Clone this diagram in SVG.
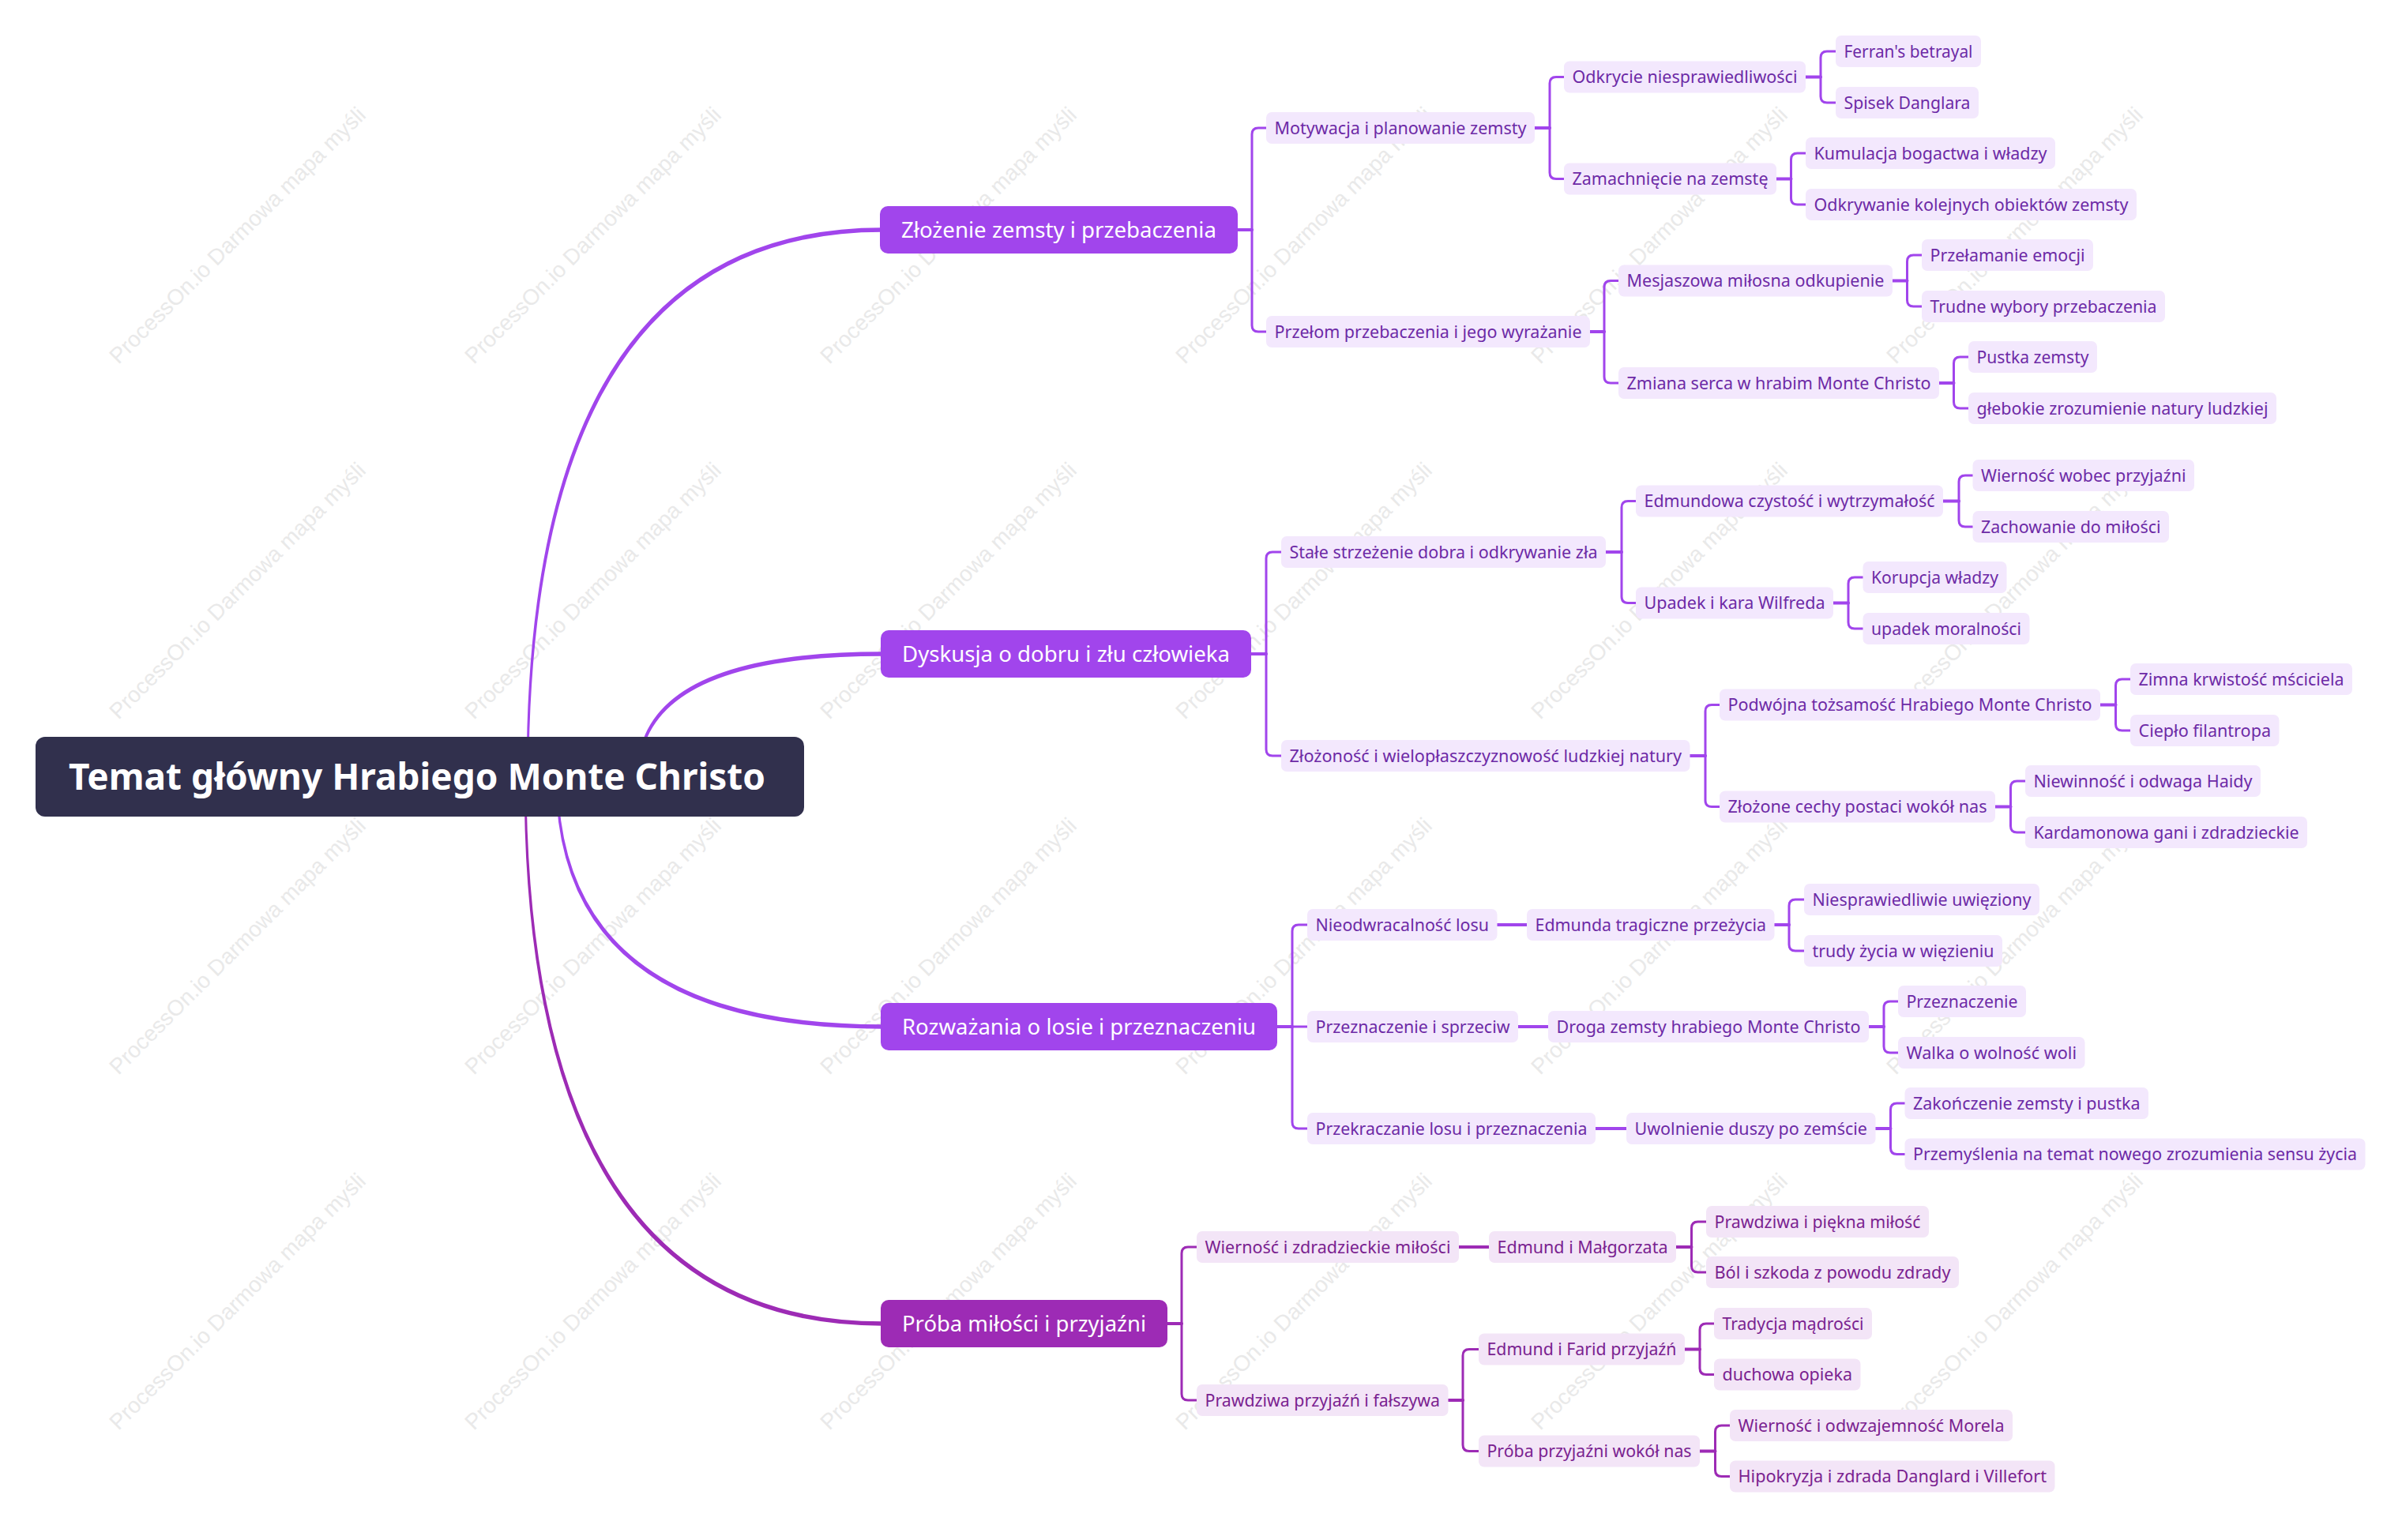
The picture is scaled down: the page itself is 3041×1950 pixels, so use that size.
<svg xmlns="http://www.w3.org/2000/svg" width="3041" height="1950" viewBox="0 0 3041 1950">
<style>
.wm{font-family:"Liberation Sans",Arial,sans-serif;font-size:28px;fill:#e9e9e9}
.root rect{fill:#31304d}
.root text{font-family:"Noto Sans","Open Sans",sans-serif;font-size:46px;font-weight:bold;fill:#ffffff;text-anchor:middle}
.l1 rect{fill:#a145ec}
.l1.b4 rect{fill:#9d2bb5}
.l1 text{font-family:"Noto Sans","Open Sans",sans-serif;font-size:28px;fill:#ffffff;text-anchor:middle}
.n rect{fill:#f3e8fd}
.n text{font-family:"Noto Sans","Open Sans",sans-serif;font-size:22px;fill:#6d2aa6;text-anchor:middle}
.n.b4 rect{fill:#f3e5f7}
.n.b4 text{fill:#7a2290}
.main{fill:#a145ec;stroke:none}
.main.b4{fill:#9d2bb5}
.c{fill:none;stroke:#a145ec;stroke-width:3;stroke-linecap:round;stroke-linejoin:round}
.c.s{stroke-width:4}
.c.b4{stroke:#9d2bb5}
</style>
<rect x="0" y="0" width="3041" height="1950" fill="#ffffff"/>
<g id="watermark">
<text class="wm" x="150" y="462" transform="rotate(-45 150 462)">ProcessOn.io Darmowa mapa myśli</text>
<text class="wm" x="600" y="462" transform="rotate(-45 600 462)">ProcessOn.io Darmowa mapa myśli</text>
<text class="wm" x="1050" y="462" transform="rotate(-45 1050 462)">ProcessOn.io Darmowa mapa myśli</text>
<text class="wm" x="1500" y="462" transform="rotate(-45 1500 462)">ProcessOn.io Darmowa mapa myśli</text>
<text class="wm" x="1950" y="462" transform="rotate(-45 1950 462)">ProcessOn.io Darmowa mapa myśli</text>
<text class="wm" x="2400" y="462" transform="rotate(-45 2400 462)">ProcessOn.io Darmowa mapa myśli</text>
<text class="wm" x="150" y="912" transform="rotate(-45 150 912)">ProcessOn.io Darmowa mapa myśli</text>
<text class="wm" x="600" y="912" transform="rotate(-45 600 912)">ProcessOn.io Darmowa mapa myśli</text>
<text class="wm" x="1050" y="912" transform="rotate(-45 1050 912)">ProcessOn.io Darmowa mapa myśli</text>
<text class="wm" x="1500" y="912" transform="rotate(-45 1500 912)">ProcessOn.io Darmowa mapa myśli</text>
<text class="wm" x="1950" y="912" transform="rotate(-45 1950 912)">ProcessOn.io Darmowa mapa myśli</text>
<text class="wm" x="2400" y="912" transform="rotate(-45 2400 912)">ProcessOn.io Darmowa mapa myśli</text>
<text class="wm" x="150" y="1362" transform="rotate(-45 150 1362)">ProcessOn.io Darmowa mapa myśli</text>
<text class="wm" x="600" y="1362" transform="rotate(-45 600 1362)">ProcessOn.io Darmowa mapa myśli</text>
<text class="wm" x="1050" y="1362" transform="rotate(-45 1050 1362)">ProcessOn.io Darmowa mapa myśli</text>
<text class="wm" x="1500" y="1362" transform="rotate(-45 1500 1362)">ProcessOn.io Darmowa mapa myśli</text>
<text class="wm" x="1950" y="1362" transform="rotate(-45 1950 1362)">ProcessOn.io Darmowa mapa myśli</text>
<text class="wm" x="2400" y="1362" transform="rotate(-45 2400 1362)">ProcessOn.io Darmowa mapa myśli</text>
<text class="wm" x="150" y="1812" transform="rotate(-45 150 1812)">ProcessOn.io Darmowa mapa myśli</text>
<text class="wm" x="600" y="1812" transform="rotate(-45 600 1812)">ProcessOn.io Darmowa mapa myśli</text>
<text class="wm" x="1050" y="1812" transform="rotate(-45 1050 1812)">ProcessOn.io Darmowa mapa myśli</text>
<text class="wm" x="1500" y="1812" transform="rotate(-45 1500 1812)">ProcessOn.io Darmowa mapa myśli</text>
<text class="wm" x="1950" y="1812" transform="rotate(-45 1950 1812)">ProcessOn.io Darmowa mapa myśli</text>
<text class="wm" x="2400" y="1812" transform="rotate(-45 2400 1812)">ProcessOn.io Darmowa mapa myśli</text>
</g>
<g id="connectors">
<path class="main" d="M666.6,983 Q665.3,288.3 1117,288.3 L1117,293.7 Q670.7,293.7 669.4,983 Z"/>
<path class="main" d="M806.6,983 Q805.3,825.3 1117,825.3 L1117,830.7 Q810.7,830.7 809.4,983 Z"/>
<path class="main" d="M703.6,983 Q702.3,1302.7 1117,1302.7 L1117,1297.3 Q707.7,1297.3 706.4,983 Z"/>
<path class="main b4" d="M663.6,983 Q662.3,1678.7 1117,1678.7 L1117,1673.3 Q667.7,1673.3 666.4,983 Z"/>
<path class="c s" d="M1567,291 H1585"/>
<path class="c" d="M1585,291 V170 Q1585,162 1593,162 H1603"/>
<path class="c" d="M1585,291 V412 Q1585,420 1593,420 H1603"/>
<path class="c s" d="M1943,162 H1962"/>
<path class="c" d="M1962,162 V105.5 Q1962,97.5 1970,97.5 H1980"/>
<path class="c" d="M1962,162 V218.5 Q1962,226.5 1970,226.5 H1980"/>
<path class="c s" d="M2286,97.5 H2305"/>
<path class="c" d="M2305,97.5 V73 Q2305,65 2313,65 H2324"/>
<path class="c" d="M2305,97.5 V122 Q2305,130 2313,130 H2324"/>
<path class="c s" d="M2249,226.5 H2267.5"/>
<path class="c" d="M2267.5,226.5 V202 Q2267.5,194 2275.5,194 H2286"/>
<path class="c" d="M2267.5,226.5 V251 Q2267.5,259 2275.5,259 H2286"/>
<path class="c s" d="M2013,420 H2031"/>
<path class="c" d="M2031,420 V363.5 Q2031,355.5 2039,355.5 H2049"/>
<path class="c" d="M2031,420 V477 Q2031,485 2039,485 H2049"/>
<path class="c s" d="M2396,355.5 H2414.5"/>
<path class="c" d="M2414.5,355.5 V331 Q2414.5,323 2422.5,323 H2433"/>
<path class="c" d="M2414.5,355.5 V380 Q2414.5,388 2422.5,388 H2433"/>
<path class="c s" d="M2455,485 H2473.5"/>
<path class="c" d="M2473.5,485 V460 Q2473.5,452 2481.5,452 H2492"/>
<path class="c" d="M2473.5,485 V509 Q2473.5,517 2481.5,517 H2492"/>
<path class="c s" d="M1584,828 H1603"/>
<path class="c" d="M1603,828 V707 Q1603,699 1611,699 H1622"/>
<path class="c" d="M1603,828 V949 Q1603,957 1611,957 H1622"/>
<path class="c s" d="M2033,699 H2053"/>
<path class="c" d="M2053,699 V642.5 Q2053,634.5 2061,634.5 H2071"/>
<path class="c" d="M2053,699 V755.5 Q2053,763.5 2061,763.5 H2071"/>
<path class="c s" d="M2460,634.5 H2480"/>
<path class="c" d="M2480,634.5 V610 Q2480,602 2488,602 H2497.5"/>
<path class="c" d="M2480,634.5 V659 Q2480,667 2488,667 H2497.5"/>
<path class="c s" d="M2321,763.5 H2340"/>
<path class="c" d="M2340,763.5 V739 Q2340,731 2348,731 H2358.5"/>
<path class="c" d="M2340,763.5 V788 Q2340,796 2348,796 H2358.5"/>
<path class="c s" d="M2139.5,957 H2159"/>
<path class="c" d="M2159,957 V900.5 Q2159,892.5 2167,892.5 H2177"/>
<path class="c" d="M2159,957 V1013.5 Q2159,1021.5 2167,1021.5 H2177"/>
<path class="c s" d="M2659,892.5 H2678.5"/>
<path class="c" d="M2678.5,892.5 V868 Q2678.5,860 2686.5,860 H2697"/>
<path class="c" d="M2678.5,892.5 V917 Q2678.5,925 2686.5,925 H2697"/>
<path class="c s" d="M2526,1021.5 H2545.5"/>
<path class="c" d="M2545.5,1021.5 V997 Q2545.5,989 2553.5,989 H2564"/>
<path class="c" d="M2545.5,1021.5 V1046 Q2545.5,1054 2553.5,1054 H2564"/>
<path class="c s" d="M1617,1300 H1636"/>
<path class="c" d="M1636,1300 V1179 Q1636,1171 1644,1171 H1655"/>
<path class="c" d="M1636,1300 H1655"/>
<path class="c" d="M1636,1300 V1421 Q1636,1429 1644,1429 H1655"/>
<path class="c s" d="M1895.5,1171 H1933"/>
<path class="c s" d="M2246.5,1171 H2265"/>
<path class="c" d="M2265,1171 V1147 Q2265,1139 2273,1139 H2284"/>
<path class="c" d="M2265,1171 V1196 Q2265,1204 2273,1204 H2284"/>
<path class="c s" d="M1922,1300 H1960"/>
<path class="c s" d="M2366,1300 H2385"/>
<path class="c" d="M2385,1300 V1276 Q2385,1268 2393,1268 H2403"/>
<path class="c" d="M2385,1300 V1325 Q2385,1333 2393,1333 H2403"/>
<path class="c s" d="M2020,1429 H2059"/>
<path class="c s" d="M2374.5,1429 H2393.5"/>
<path class="c" d="M2393.5,1429 V1405 Q2393.5,1397 2401.5,1397 H2411.5"/>
<path class="c" d="M2393.5,1429 V1453.5 Q2393.5,1461.5 2401.5,1461.5 H2411.5"/>
<path class="c s b4" d="M1478,1676 H1496"/>
<path class="c b4" d="M1496,1676 V1587 Q1496,1579 1504,1579 H1515"/>
<path class="c b4" d="M1496,1676 V1765 Q1496,1773 1504,1773 H1515"/>
<path class="c s b4" d="M1847,1579 H1885"/>
<path class="c s b4" d="M2122,1579 H2141.5"/>
<path class="c b4" d="M2141.5,1579 V1555 Q2141.5,1547 2149.5,1547 H2160"/>
<path class="c b4" d="M2141.5,1579 V1603 Q2141.5,1611 2149.5,1611 H2160"/>
<path class="c s b4" d="M1833.5,1773 H1852"/>
<path class="c b4" d="M1852,1773 V1716.5 Q1852,1708.5 1860,1708.5 H1872"/>
<path class="c b4" d="M1852,1773 V1829.5 Q1852,1837.5 1860,1837.5 H1872"/>
<path class="c s b4" d="M2133,1708.5 H2152"/>
<path class="c b4" d="M2152,1708.5 V1684 Q2152,1676 2160,1676 H2170"/>
<path class="c b4" d="M2152,1708.5 V1732.5 Q2152,1740.5 2160,1740.5 H2170"/>
<path class="c s b4" d="M2152,1837.5 H2171.5"/>
<path class="c b4" d="M2171.5,1837.5 V1813 Q2171.5,1805 2179.5,1805 H2190"/>
<path class="c b4" d="M2171.5,1837.5 V1861.5 Q2171.5,1869.5 2179.5,1869.5 H2190"/>
</g>
<g id="root" class="root"><rect x="45" y="933" width="973" height="101" rx="12"/><text x="528" y="1000" textLength="882" lengthAdjust="spacingAndGlyphs">Temat główny Hrabiego Monte Christo</text></g>
<g id="b1" class="l1"><rect x="1114" y="261" width="453" height="60" rx="10"/><text x="1340.5" y="301" textLength="399" lengthAdjust="spacingAndGlyphs">Złożenie zemsty i przebaczenia</text></g>
<g id="b2" class="l1"><rect x="1115" y="798" width="469" height="60" rx="10"/><text x="1349.5" y="838" textLength="415" lengthAdjust="spacingAndGlyphs">Dyskusja o dobru i złu człowieka</text></g>
<g id="b3" class="l1"><rect x="1115" y="1270" width="502" height="60" rx="10"/><text x="1366" y="1310" textLength="448" lengthAdjust="spacingAndGlyphs">Rozważania o losie i przeznaczeniu</text></g>
<g id="b4" class="l1 b4"><rect x="1115" y="1646" width="363" height="60" rx="10"/><text x="1296.5" y="1686" textLength="309" lengthAdjust="spacingAndGlyphs">Próba miłości i przyjaźni</text></g>
<g id="n1_1" class="n"><rect x="1603" y="142" width="340" height="40" rx="7"/><text x="1773" y="169.8" textLength="319" lengthAdjust="spacingAndGlyphs">Motywacja i planowanie zemsty</text></g>
<g id="n1_2" class="n"><rect x="1603" y="400" width="410" height="40" rx="7"/><text x="1808" y="427.8" textLength="389" lengthAdjust="spacingAndGlyphs">Przełom przebaczenia i jego wyrażanie</text></g>
<g id="n1_1_1" class="n"><rect x="1980" y="77.5" width="306" height="40" rx="7"/><text x="2133" y="105.3" textLength="285" lengthAdjust="spacingAndGlyphs">Odkrycie niesprawiedliwości</text></g>
<g id="n1_1_2" class="n"><rect x="1980" y="206.5" width="269" height="40" rx="7"/><text x="2114.5" y="234.3" textLength="248" lengthAdjust="spacingAndGlyphs">Zamachnięcie na zemstę</text></g>
<g id="n1_1_1_1" class="n"><rect x="2324" y="45" width="184" height="40" rx="7"/><text x="2416" y="72.8" textLength="163" lengthAdjust="spacingAndGlyphs">Ferran's betrayal</text></g>
<g id="n1_1_1_2" class="n"><rect x="2324" y="110" width="181" height="40" rx="7"/><text x="2414.5" y="137.8" textLength="160" lengthAdjust="spacingAndGlyphs">Spisek Danglara</text></g>
<g id="n1_1_2_1" class="n"><rect x="2286" y="174" width="316" height="40" rx="7"/><text x="2444" y="201.8" textLength="295" lengthAdjust="spacingAndGlyphs">Kumulacja bogactwa i władzy</text></g>
<g id="n1_1_2_2" class="n"><rect x="2286" y="239" width="419" height="40" rx="7"/><text x="2495.5" y="266.8" textLength="398" lengthAdjust="spacingAndGlyphs">Odkrywanie kolejnych obiektów zemsty</text></g>
<g id="n1_2_1" class="n"><rect x="2049" y="335.5" width="347" height="40" rx="7"/><text x="2222.5" y="363.3" textLength="326" lengthAdjust="spacingAndGlyphs">Mesjaszowa miłosna odkupienie</text></g>
<g id="n1_2_2" class="n"><rect x="2049" y="465" width="406" height="40" rx="7"/><text x="2252" y="492.8" textLength="385" lengthAdjust="spacingAndGlyphs">Zmiana serca w hrabim Monte Christo</text></g>
<g id="n1_2_1_1" class="n"><rect x="2433" y="303" width="217" height="40" rx="7"/><text x="2541.5" y="330.8" textLength="196" lengthAdjust="spacingAndGlyphs">Przełamanie emocji</text></g>
<g id="n1_2_1_2" class="n"><rect x="2433" y="368" width="308" height="40" rx="7"/><text x="2587" y="395.8" textLength="287" lengthAdjust="spacingAndGlyphs">Trudne wybory przebaczenia</text></g>
<g id="n1_2_2_1" class="n"><rect x="2492" y="432" width="163" height="40" rx="7"/><text x="2573.5" y="459.8" textLength="142" lengthAdjust="spacingAndGlyphs">Pustka zemsty</text></g>
<g id="n1_2_2_2" class="n"><rect x="2492" y="497" width="390" height="40" rx="7"/><text x="2687" y="524.8" textLength="369" lengthAdjust="spacingAndGlyphs">głebokie zrozumienie natury ludzkiej</text></g>
<g id="n2_1" class="n"><rect x="1622" y="679" width="411" height="40" rx="7"/><text x="1827.5" y="706.8" textLength="390" lengthAdjust="spacingAndGlyphs">Stałe strzeżenie dobra i odkrywanie zła</text></g>
<g id="n2_2" class="n"><rect x="1622" y="937" width="517.5" height="40" rx="7"/><text x="1880.75" y="964.8" textLength="496.5" lengthAdjust="spacingAndGlyphs">Złożoność i wielopłaszczyznowość ludzkiej natury</text></g>
<g id="n2_1_1" class="n"><rect x="2071" y="614.5" width="389" height="40" rx="7"/><text x="2265.5" y="642.3" textLength="368" lengthAdjust="spacingAndGlyphs">Edmundowa czystość i wytrzymałość</text></g>
<g id="n2_1_2" class="n"><rect x="2071" y="743.5" width="250" height="40" rx="7"/><text x="2196" y="771.3" textLength="229" lengthAdjust="spacingAndGlyphs">Upadek i kara Wilfreda</text></g>
<g id="n2_1_1_1" class="n"><rect x="2497.5" y="582" width="280.5" height="40" rx="7"/><text x="2637.75" y="609.8" textLength="259.5" lengthAdjust="spacingAndGlyphs">Wierność wobec przyjaźni</text></g>
<g id="n2_1_1_2" class="n"><rect x="2497.5" y="647" width="248.5" height="40" rx="7"/><text x="2621.75" y="674.8" textLength="227.5" lengthAdjust="spacingAndGlyphs">Zachowanie do miłości</text></g>
<g id="n2_1_2_1" class="n"><rect x="2358.5" y="711" width="182" height="40" rx="7"/><text x="2449.5" y="738.8" textLength="161" lengthAdjust="spacingAndGlyphs">Korupcja władzy</text></g>
<g id="n2_1_2_2" class="n"><rect x="2358.5" y="776" width="211" height="40" rx="7"/><text x="2464" y="803.8" textLength="190" lengthAdjust="spacingAndGlyphs">upadek moralności</text></g>
<g id="n2_2_1" class="n"><rect x="2177" y="872.5" width="482" height="40" rx="7"/><text x="2418" y="900.3" textLength="461" lengthAdjust="spacingAndGlyphs">Podwójna tożsamość Hrabiego Monte Christo</text></g>
<g id="n2_2_2" class="n"><rect x="2177" y="1001.5" width="349" height="40" rx="7"/><text x="2351.5" y="1029.3" textLength="328" lengthAdjust="spacingAndGlyphs">Złożone cechy postaci wokół nas</text></g>
<g id="n2_2_1_1" class="n"><rect x="2697" y="840" width="281" height="40" rx="7"/><text x="2837.5" y="867.8" textLength="260" lengthAdjust="spacingAndGlyphs">Zimna krwistość mściciela</text></g>
<g id="n2_2_1_2" class="n"><rect x="2697" y="905" width="188.5" height="40" rx="7"/><text x="2791.25" y="932.8" textLength="167.5" lengthAdjust="spacingAndGlyphs">Ciepło filantropa</text></g>
<g id="n2_2_2_1" class="n"><rect x="2564" y="969" width="298" height="40" rx="7"/><text x="2713" y="996.8" textLength="277" lengthAdjust="spacingAndGlyphs">Niewinność i odwaga Haidy</text></g>
<g id="n2_2_2_2" class="n"><rect x="2564" y="1034" width="357" height="40" rx="7"/><text x="2742.5" y="1061.8" textLength="336" lengthAdjust="spacingAndGlyphs">Kardamonowa gani i zdradzieckie</text></g>
<g id="n3_1" class="n"><rect x="1655" y="1151" width="240.5" height="40" rx="7"/><text x="1775.25" y="1178.8" textLength="219.5" lengthAdjust="spacingAndGlyphs">Nieodwracalność losu</text></g>
<g id="n3_2" class="n"><rect x="1655" y="1280" width="267" height="40" rx="7"/><text x="1788.5" y="1307.8" textLength="246" lengthAdjust="spacingAndGlyphs">Przeznaczenie i sprzeciw</text></g>
<g id="n3_3" class="n"><rect x="1655" y="1409" width="365" height="40" rx="7"/><text x="1837.5" y="1436.8" textLength="344" lengthAdjust="spacingAndGlyphs">Przekraczanie losu i przeznaczenia</text></g>
<g id="n3_1_1" class="n"><rect x="1933" y="1151" width="313.5" height="40" rx="7"/><text x="2089.75" y="1178.8" textLength="292.5" lengthAdjust="spacingAndGlyphs">Edmunda tragiczne przeżycia</text></g>
<g id="n3_1_1_1" class="n"><rect x="2284" y="1119" width="298" height="40" rx="7"/><text x="2433" y="1146.8" textLength="277" lengthAdjust="spacingAndGlyphs">Niesprawiedliwie uwięziony</text></g>
<g id="n3_1_1_2" class="n"><rect x="2284" y="1184" width="251" height="40" rx="7"/><text x="2409.5" y="1211.8" textLength="230" lengthAdjust="spacingAndGlyphs">trudy życia w więzieniu</text></g>
<g id="n3_2_1" class="n"><rect x="1960" y="1280" width="406" height="40" rx="7"/><text x="2163" y="1307.8" textLength="385" lengthAdjust="spacingAndGlyphs">Droga zemsty hrabiego Monte Christo</text></g>
<g id="n3_2_1_1" class="n"><rect x="2403" y="1248" width="162" height="40" rx="7"/><text x="2484" y="1275.8" textLength="141" lengthAdjust="spacingAndGlyphs">Przeznaczenie</text></g>
<g id="n3_2_1_2" class="n"><rect x="2403" y="1313" width="236.5" height="40" rx="7"/><text x="2521.25" y="1340.8" textLength="215.5" lengthAdjust="spacingAndGlyphs">Walka o wolność woli</text></g>
<g id="n3_3_1" class="n"><rect x="2059" y="1409" width="315.5" height="40" rx="7"/><text x="2216.75" y="1436.8" textLength="294.5" lengthAdjust="spacingAndGlyphs">Uwolnienie duszy po zemście</text></g>
<g id="n3_3_1_1" class="n"><rect x="2411.5" y="1377" width="308.5" height="40" rx="7"/><text x="2565.75" y="1404.8" textLength="287.5" lengthAdjust="spacingAndGlyphs">Zakończenie zemsty i pustka</text></g>
<g id="n3_3_1_2" class="n"><rect x="2411.5" y="1441.5" width="583" height="40" rx="7"/><text x="2703" y="1469.3" textLength="562" lengthAdjust="spacingAndGlyphs">Przemyślenia na temat nowego zrozumienia sensu życia</text></g>
<g id="n4_1" class="n b4"><rect x="1515" y="1559" width="332" height="40" rx="7"/><text x="1681" y="1586.8" textLength="311" lengthAdjust="spacingAndGlyphs">Wierność i zdradzieckie miłości</text></g>
<g id="n4_2" class="n b4"><rect x="1515" y="1753" width="318.5" height="40" rx="7"/><text x="1674.25" y="1780.8" textLength="297.5" lengthAdjust="spacingAndGlyphs">Prawdziwa przyjaźń i fałszywa</text></g>
<g id="n4_1_1" class="n b4"><rect x="1885" y="1559" width="237" height="40" rx="7"/><text x="2003.5" y="1586.8" textLength="216" lengthAdjust="spacingAndGlyphs">Edmund i Małgorzata</text></g>
<g id="n4_1_1_1" class="n b4"><rect x="2160" y="1527" width="282" height="40" rx="7"/><text x="2301" y="1554.8" textLength="261" lengthAdjust="spacingAndGlyphs">Prawdziwa i piękna miłość</text></g>
<g id="n4_1_1_2" class="n b4"><rect x="2160" y="1591" width="320" height="40" rx="7"/><text x="2320" y="1618.8" textLength="299" lengthAdjust="spacingAndGlyphs">Ból i szkoda z powodu zdrady</text></g>
<g id="n4_2_1" class="n b4"><rect x="1872" y="1688.5" width="261" height="40" rx="7"/><text x="2002.5" y="1716.3" textLength="240" lengthAdjust="spacingAndGlyphs">Edmund i Farid przyjaźń</text></g>
<g id="n4_2_2" class="n b4"><rect x="1872" y="1817.5" width="280" height="40" rx="7"/><text x="2012" y="1845.3" textLength="259" lengthAdjust="spacingAndGlyphs">Próba przyjaźni wokół nas</text></g>
<g id="n4_2_1_1" class="n b4"><rect x="2170" y="1656" width="200" height="40" rx="7"/><text x="2270" y="1683.8" textLength="179" lengthAdjust="spacingAndGlyphs">Tradycja mądrości</text></g>
<g id="n4_2_1_2" class="n b4"><rect x="2170" y="1720.5" width="185.5" height="40" rx="7"/><text x="2262.75" y="1748.3" textLength="164.5" lengthAdjust="spacingAndGlyphs">duchowa opieka</text></g>
<g id="n4_2_2_1" class="n b4"><rect x="2190" y="1785" width="358" height="40" rx="7"/><text x="2369" y="1812.8" textLength="337" lengthAdjust="spacingAndGlyphs">Wierność i odwzajemność Morela</text></g>
<g id="n4_2_2_2" class="n b4"><rect x="2190" y="1849.5" width="411.5" height="40" rx="7"/><text x="2395.75" y="1877.3" textLength="390.5" lengthAdjust="spacingAndGlyphs">Hipokryzja i zdrada Danglard i Villefort</text></g>
</svg>
